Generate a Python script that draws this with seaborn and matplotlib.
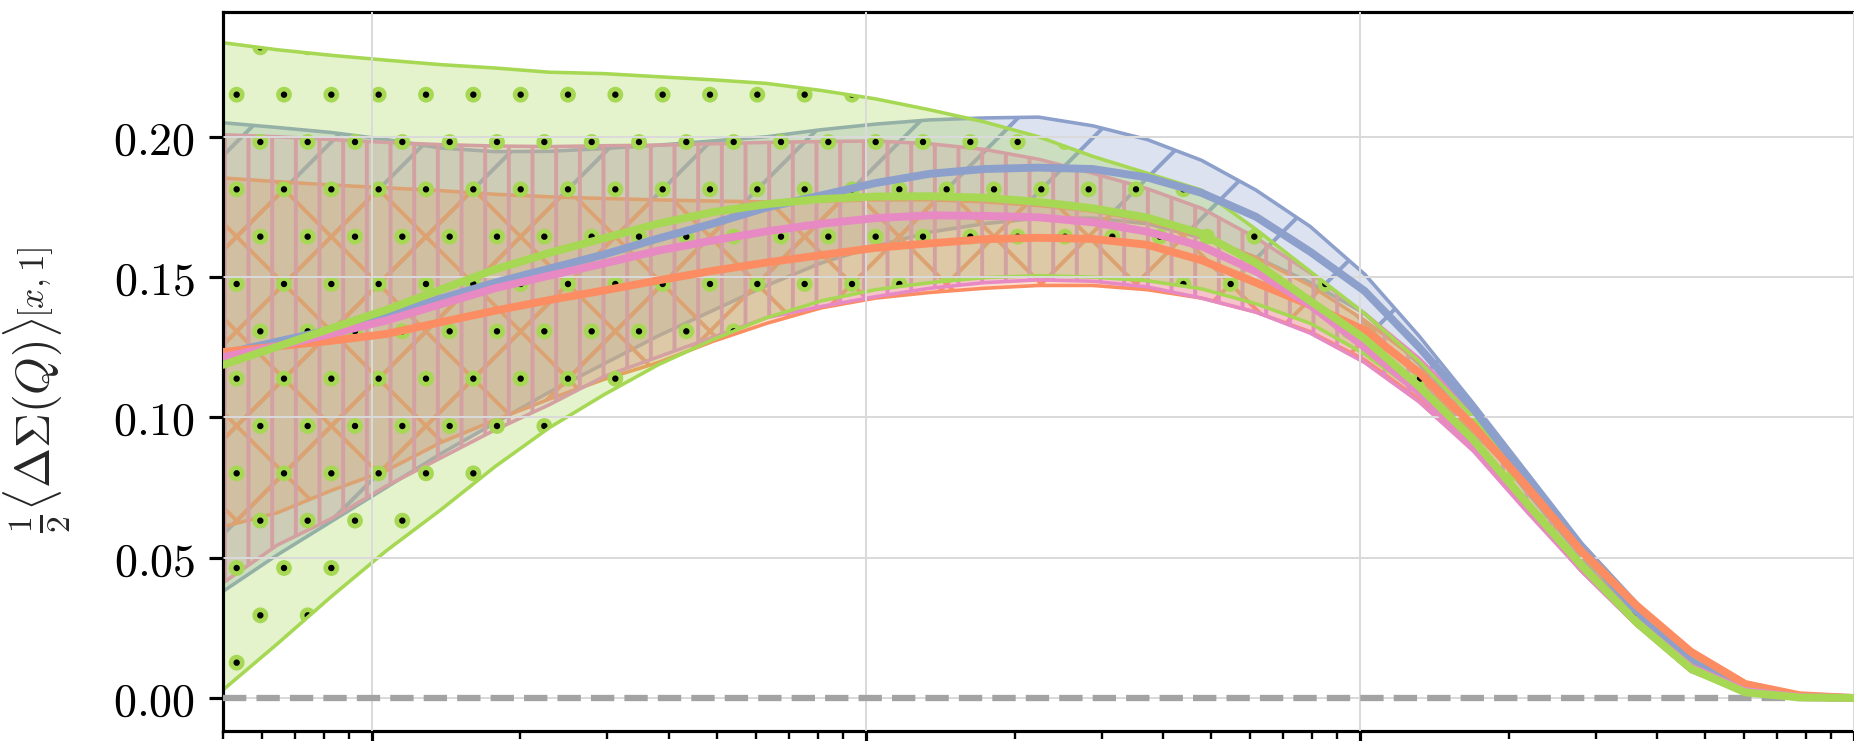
import numpy as np
import pandas as pd
import matplotlib
matplotlib.use("Agg")
import matplotlib.pyplot as plt
import matplotlib.hatch as mhatch
import seaborn as sns

# ---------------- data ----------------
x_vals = [0.5, 0.644, 0.830, 1.069, 1.378, 1.775, 2.287, 2.946, 3.795, 4.890,
          6.300, 8.116, 10.46, 13.47, 17.36, 22.36, 28.81, 37.12, 47.82, 61.61,
          79.37, 102.3, 131.8, 169.7, 218.7, 281.8, 363.0, 467.7, 602.5, 776.3, 1000.0]

blue_mean = [0.1226, 0.127, 0.1313, 0.1365, 0.1423, 0.148, 0.153, 0.158, 0.1637, 0.169,
             0.1748, 0.1791, 0.1835, 0.1868, 0.1885, 0.189, 0.1885, 0.1855, 0.180, 0.1715,
             0.159, 0.145, 0.125, 0.103, 0.078, 0.053, 0.031, 0.013, 0.003, 0.0005, 0.0]
blue_lower = [0.038, 0.051, 0.063, 0.075, 0.087, 0.098, 0.109, 0.119, 0.129, 0.138,
              0.147, 0.155, 0.161, 0.166, 0.169, 0.171, 0.171, 0.169, 0.164, 0.157,
              0.148, 0.137, 0.119, 0.097, 0.073, 0.050, 0.029, 0.012, 0.003, 0.0004, 0.0]
blue_upper = [0.205, 0.2033, 0.2015, 0.199, 0.196, 0.1947, 0.1948, 0.1958, 0.197, 0.1985,
              0.200, 0.2025, 0.2045, 0.206, 0.2067, 0.207, 0.2039, 0.199, 0.1916, 0.181,
              0.168, 0.151, 0.129, 0.105, 0.080, 0.055, 0.034, 0.015, 0.004, 0.0008, 0.0]

orange_mean = [0.1233, 0.1253, 0.1273, 0.1297, 0.1339, 0.138, 0.1418, 0.1452, 0.1488, 0.1522,
               0.1552, 0.1578, 0.1604, 0.162, 0.1635, 0.164, 0.1636, 0.1615, 0.156, 0.148,
               0.140, 0.131, 0.116, 0.097, 0.075, 0.052, 0.033, 0.0165, 0.005, 0.001, 0.0]
orange_lower = [0.061, 0.066, 0.074, 0.081, 0.091, 0.099, 0.1065, 0.1135, 0.1195, 0.127,
                0.1335, 0.139, 0.1425, 0.1445, 0.146, 0.147, 0.147, 0.1455, 0.1425, 0.1375,
                0.1305, 0.1205, 0.1065, 0.089, 0.0675, 0.046, 0.0265, 0.0115, 0.003, 0.0005, 0.0]
orange_upper = [0.1853, 0.184, 0.1828, 0.1818, 0.1808, 0.1795, 0.1786, 0.178, 0.1775, 0.1771,
                0.1768, 0.177, 0.1775, 0.1775, 0.1768, 0.1755, 0.1735, 0.170, 0.1645, 0.157,
                0.147, 0.1345, 0.120, 0.102, 0.078, 0.054, 0.0335, 0.017, 0.0055, 0.0012, 0.0]

pink_mean = [0.1215, 0.1254, 0.1298, 0.1345, 0.1403, 0.146, 0.1505, 0.1548, 0.1594, 0.163,
             0.1663, 0.169, 0.171, 0.172, 0.1718, 0.1713, 0.1695, 0.1662, 0.161, 0.152,
             0.140, 0.125, 0.109, 0.090, 0.068, 0.046, 0.027, 0.011, 0.0025, 0.0003, 0.0]
pink_lower = [0.041, 0.0545, 0.064, 0.0755, 0.0855, 0.0955, 0.1045, 0.1145, 0.1215, 0.1285,
              0.1355, 0.1395, 0.143, 0.146, 0.148, 0.149, 0.1485, 0.1465, 0.1425, 0.1375,
              0.130, 0.1195, 0.1055, 0.088, 0.066, 0.045, 0.026, 0.0095, 0.002, 0.0002, 0.0]
pink_upper = [0.2007, 0.200, 0.199, 0.198, 0.1972, 0.1967, 0.1965, 0.1968, 0.197, 0.1975,
              0.198, 0.1983, 0.1985, 0.1975, 0.1955, 0.192, 0.187, 0.1815, 0.1745, 0.164,
              0.1515, 0.137, 0.121, 0.102, 0.077, 0.052, 0.031, 0.0135, 0.0035, 0.0005, 0.0]

green_mean = [0.1187, 0.1252, 0.1318, 0.1383, 0.1455, 0.1527, 0.1586, 0.1638, 0.169, 0.1731,
              0.176, 0.1778, 0.1787, 0.1788, 0.1783, 0.1768, 0.1745, 0.1712, 0.1655, 0.155,
              0.1415, 0.128, 0.111, 0.092, 0.069, 0.047, 0.027, 0.0105, 0.002, 0.0002, 0.0]
green_lower = [0.0029, 0.0193, 0.0363, 0.0524, 0.067, 0.0824, 0.0963, 0.108, 0.1187, 0.1276,
               0.1355, 0.1415, 0.1455, 0.148, 0.1498, 0.1505, 0.150, 0.1487, 0.1458, 0.1405,
               0.1335, 0.1225, 0.1085, 0.0895, 0.0675, 0.046, 0.026, 0.0095, 0.0015, 0.0, 0.0]
green_upper = [0.2335, 0.231, 0.229, 0.2273, 0.2257, 0.2245, 0.223, 0.2225, 0.2214, 0.2203,
               0.219, 0.2165, 0.2135, 0.2096, 0.2053, 0.200, 0.193, 0.187, 0.181, 0.167,
               0.152, 0.137, 0.120, 0.100, 0.076, 0.051, 0.031, 0.014, 0.004, 0.001, 0.0]

series_names = ["blue", "orange", "pink", "green"]
series_colors = ["#8da0cb", "#fc8d62", "#e78ac3", "#a6d854"]
series_hatches = ["/", "x", "||", "."]

ytick_values = [0.00, 0.05, 0.10, 0.15, 0.20]
ytick_labels = ["$0.00$", "$0.05$", "$0.10$", "$0.15$", "$0.20$"]
y_label_main = r"$\frac{1}{2}\langle\Delta\Sigma(Q)\rangle$"
y_label_sup = r"$[x,1]$"

means = [blue_mean, orange_mean, pink_mean, green_mean]
lowers = [blue_lower, orange_lower, pink_lower, green_lower]
uppers = [blue_upper, orange_upper, pink_upper, green_upper]

# ---------------- style ----------------
sns.set_theme(style="ticks")
plt.rcParams.update({
    "mathtext.fontset": "cm",
    "hatch.linewidth": 1.0,
    "axes.linewidth": 0.8,
    "axes.edgecolor": "black",
    "xtick.color": "black",
    "ytick.color": "black",
    "xtick.major.size": 3.5,
    "xtick.minor.size": 2.0,
    "ytick.major.size": 3.5,
    "xtick.major.width": 0.8,
    "xtick.minor.width": 0.6,
    "ytick.major.width": 0.8,
})

# hatch dots: larger green discs with small dark centres
mhatch.SmallFilledCircles.size = 0.125
mhatch.SmallCircles.filled = True
mhatch.SmallCircles.size = 0.025

DPI = 284
fig = plt.figure(figsize=(1854.3 / DPI, 741.3 / DPI), dpi=DPI)
ax = fig.add_axes([223 / 1854, 10 / 741, 1680 / 1854, 719 / 741])
ax.set_xscale("log")

x = np.array(x_vals)
for name, c, h, lo, hi in zip(series_names, series_colors, series_hatches, lowers, uppers):
    ax.fill_between(x, lo, hi, color=c, alpha=0.3, lw=0, zorder=1)
    ax.fill_between(x, lo, hi, facecolor="none", edgecolor=c, hatch=h, lw=0, zorder=1)
    if name == "green":
        ax.fill_between(x, lo, hi, facecolor="none", edgecolor="black", hatch="o", lw=0, zorder=1)
    ax.plot(x, lo, color=c, lw=0.9, zorder=1)
    ax.plot(x, hi, color=c, lw=0.9, zorder=1)

ax.axhline(0, color="#a3a3a3", ls="--", lw=1.6, zorder=2.6)

df = pd.DataFrame({
    "x": np.tile(x, len(series_names)),
    "value": np.concatenate([np.array(m) for m in means]),
    "series": np.repeat(series_names, len(x)),
})
sns.lineplot(data=df, x="x", y="value", hue="series", hue_order=series_names,
             palette=dict(zip(series_names, series_colors)), lw=2.0,
             legend=False, ax=ax, zorder=3, sort=False)

ax.set_xlim(0.5, 10 ** 3.1)
ax.set_ylim(-0.01176, 0.24456)
ax.set_yticks(ytick_values)
ax.set_yticklabels(ytick_labels, fontsize=11.7)
ax.tick_params(axis="x", which="both", labelbottom=False, direction="out", bottom=True)
ax.tick_params(axis="y", direction="out", left=True)
ax.grid(True, which="major", color="#dadada", lw=0.5)
ax.set_axisbelow(False)
ax.set_xlabel("")
ax.set_ylabel("")

# y label: main part plus its raised superscript (LaTeX-like placement)
fig.text(73 / 1854, 1 - 533 / 741, y_label_main, rotation=90, fontsize=12.2,
         ha="right", va="bottom")
fig.text(55 / 1854, 1 - 318 / 741, y_label_sup, rotation=90, fontsize=9.0,
         ha="right", va="bottom")

fig.savefig("out.png", dpi=DPI)
